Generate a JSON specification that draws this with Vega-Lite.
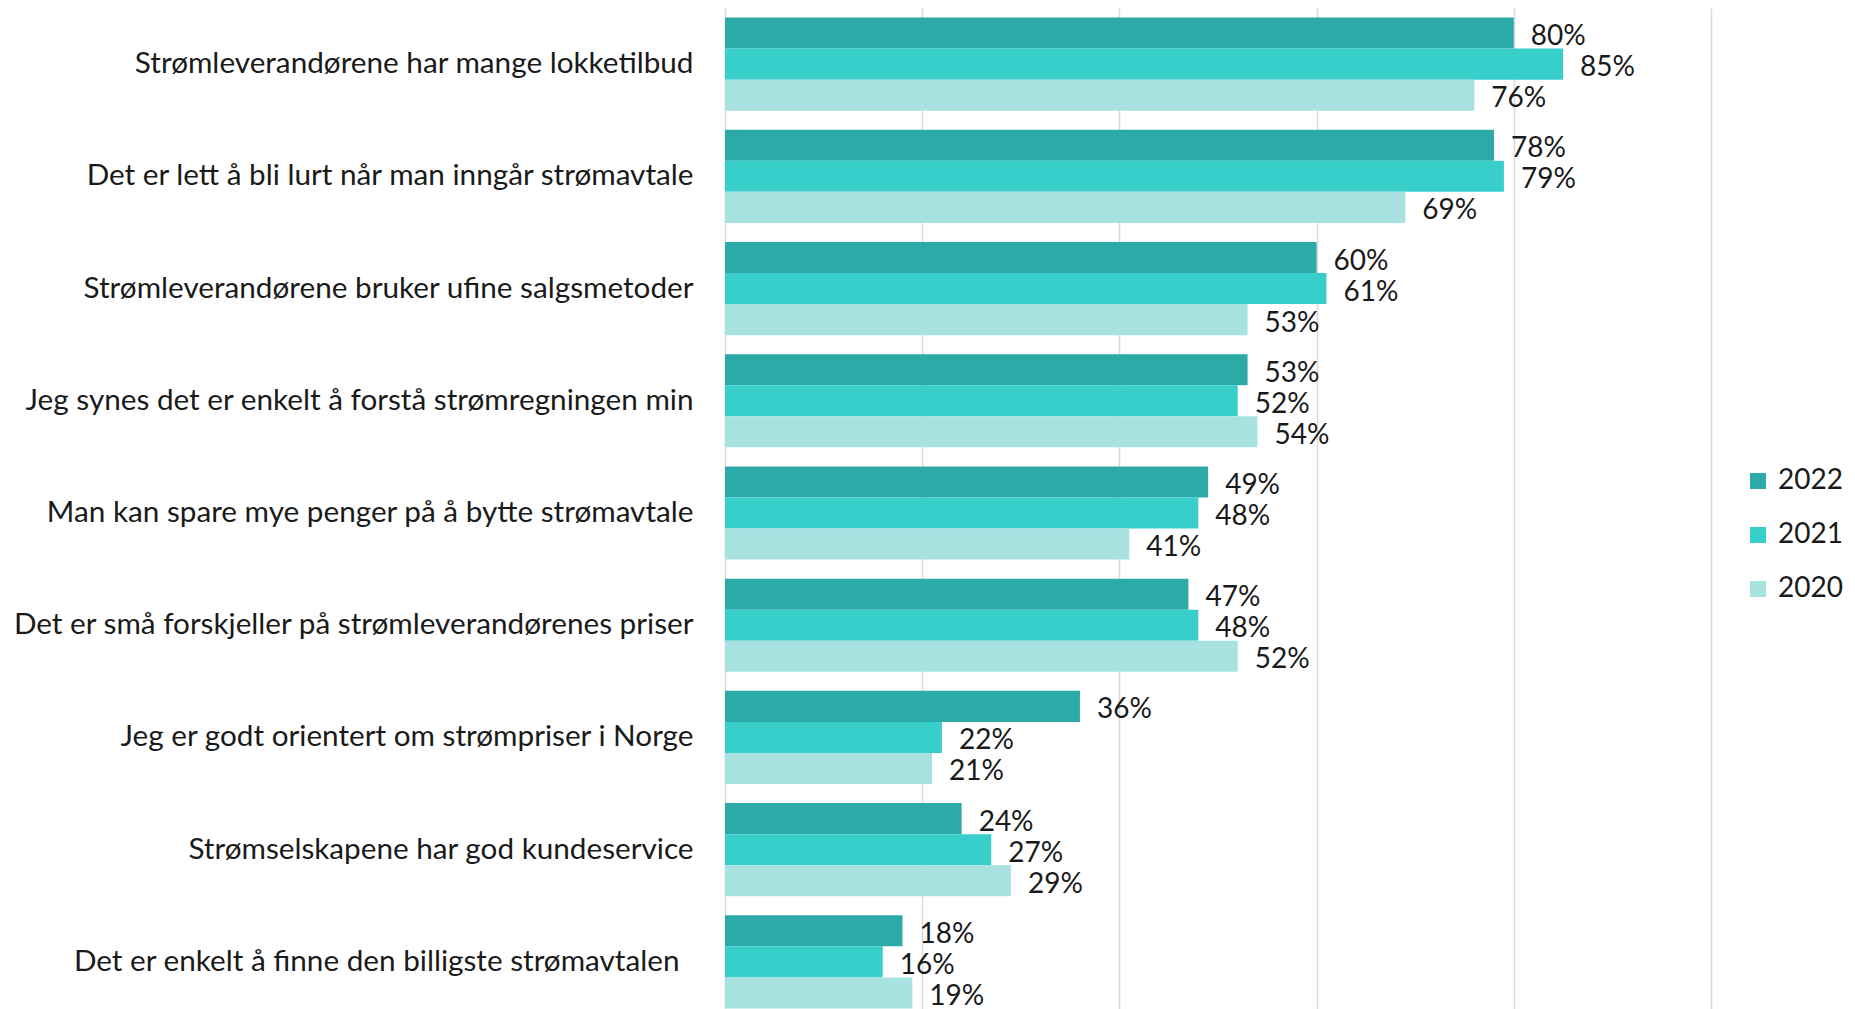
{
  "$schema": "https://vega.github.io/schema/vega-lite/v6.json",
  "autosize": {"type": "none"},
  "width": 986,
  "height": 1010,
  "padding": {"left": 725, "top": 8, "right": 144, "bottom": 0},
  "background": "white",
  "config": {
    "view": {"stroke": null},
    "font": "Lato",
    "text": {"font": "Lato"}
  },
  "data": {
    "values": [
      {"statement": "Strømleverandørene har mange lokketilbud", "year": "2022", "value": 0.80},
      {"statement": "Strømleverandørene har mange lokketilbud", "year": "2021", "value": 0.85},
      {"statement": "Strømleverandørene har mange lokketilbud", "year": "2020", "value": 0.76},
      {"statement": "Det er lett å bli lurt når man inngår strømavtale", "year": "2022", "value": 0.78},
      {"statement": "Det er lett å bli lurt når man inngår strømavtale", "year": "2021", "value": 0.79},
      {"statement": "Det er lett å bli lurt når man inngår strømavtale", "year": "2020", "value": 0.69},
      {"statement": "Strømleverandørene bruker ufine salgsmetoder", "year": "2022", "value": 0.60},
      {"statement": "Strømleverandørene bruker ufine salgsmetoder", "year": "2021", "value": 0.61},
      {"statement": "Strømleverandørene bruker ufine salgsmetoder", "year": "2020", "value": 0.53},
      {"statement": "Jeg synes det er enkelt å forstå strømregningen min", "year": "2022", "value": 0.53},
      {"statement": "Jeg synes det er enkelt å forstå strømregningen min", "year": "2021", "value": 0.52},
      {"statement": "Jeg synes det er enkelt å forstå strømregningen min", "year": "2020", "value": 0.54},
      {"statement": "Man kan spare mye penger på å bytte strømavtale", "year": "2022", "value": 0.49},
      {"statement": "Man kan spare mye penger på å bytte strømavtale", "year": "2021", "value": 0.48},
      {"statement": "Man kan spare mye penger på å bytte strømavtale", "year": "2020", "value": 0.41},
      {"statement": "Det er små forskjeller på strømleverandørenes priser", "year": "2022", "value": 0.47},
      {"statement": "Det er små forskjeller på strømleverandørenes priser", "year": "2021", "value": 0.48},
      {"statement": "Det er små forskjeller på strømleverandørenes priser", "year": "2020", "value": 0.52},
      {"statement": "Jeg er godt orientert om strømpriser i Norge", "year": "2022", "value": 0.36},
      {"statement": "Jeg er godt orientert om strømpriser i Norge", "year": "2021", "value": 0.22},
      {"statement": "Jeg er godt orientert om strømpriser i Norge", "year": "2020", "value": 0.21},
      {"statement": "Strømselskapene har god kundeservice", "year": "2022", "value": 0.24},
      {"statement": "Strømselskapene har god kundeservice", "year": "2021", "value": 0.27},
      {"statement": "Strømselskapene har god kundeservice", "year": "2020", "value": 0.29},
      {"statement": "Det er enkelt å finne den billigste strømavtalen ", "year": "2022", "value": 0.18},
      {"statement": "Det er enkelt å finne den billigste strømavtalen ", "year": "2021", "value": 0.16},
      {"statement": "Det er enkelt å finne den billigste strømavtalen ", "year": "2020", "value": 0.19}
    ]
  },
  "encoding": {
    "y": {
      "field": "statement",
      "type": "nominal",
      "sort": null,
      "scale": {"paddingInner": 0.17, "paddingOuter": 0.085},
      "axis": {
        "title": null,
        "domain": false,
        "ticks": false,
        "labelFontSize": 29.7,
        "labelColor": "#1A1A1A",
        "labelPadding": {"condition": {"test": "indexof(datum.value, 'billigste') >= 0", "value": 46}, "value": 32},
        "labelLimit": 0,
        "labelFont": "Lato"
      }
    },
    "yOffset": {
      "field": "year",
      "type": "nominal",
      "sort": ["2022", "2021", "2020"],
      "scale": {"paddingInner": 0, "paddingOuter": 0}
    },
    "x": {
      "field": "value",
      "type": "quantitative",
      "scale": {"domain": [0, 1], "nice": false},
      "axis": {
        "title": null,
        "domain": false,
        "ticks": false,
        "labels": false,
        "values": [0, 0.2, 0.4, 0.6, 0.8, 1.0],
        "grid": true,
        "gridColor": "#D9D9D9",
        "gridWidth": 1.5
      }
    }
  },
  "layer": [
    {
      "mark": {"type": "bar", "cornerRadius": 0},
      "encoding": {
        "color": {
          "field": "year",
          "type": "nominal",
          "sort": ["2022", "2021", "2020"],
          "scale": {"domain": ["2022", "2021", "2020"], "range": ["#2CAAA7", "#38CFCB", "#A7E2E1"]},
          "legend": {
            "title": null,
            "orient": "none",
            "legendX": 1019,
            "legendY": 459,
            "padding": 0,
            "symbolType": "square",
            "symbolSize": 256,
            "symbolStrokeWidth": 0,
            "labelFontSize": 28,
            "labelFont": "Lato",
            "labelColor": "#1A1A1A",
            "labelOffset": 6,
            "rowPadding": 26
          }
        }
      }
    },
    {
      "mark": {"type": "text", "align": "left", "baseline": "middle", "dx": 17, "dy": 4, "fontSize": 28, "color": "#1A1A1A", "font": "Lato"},
      "encoding": {
        "text": {"field": "value", "type": "quantitative", "format": ".0%"}
      }
    }
  ]
}
